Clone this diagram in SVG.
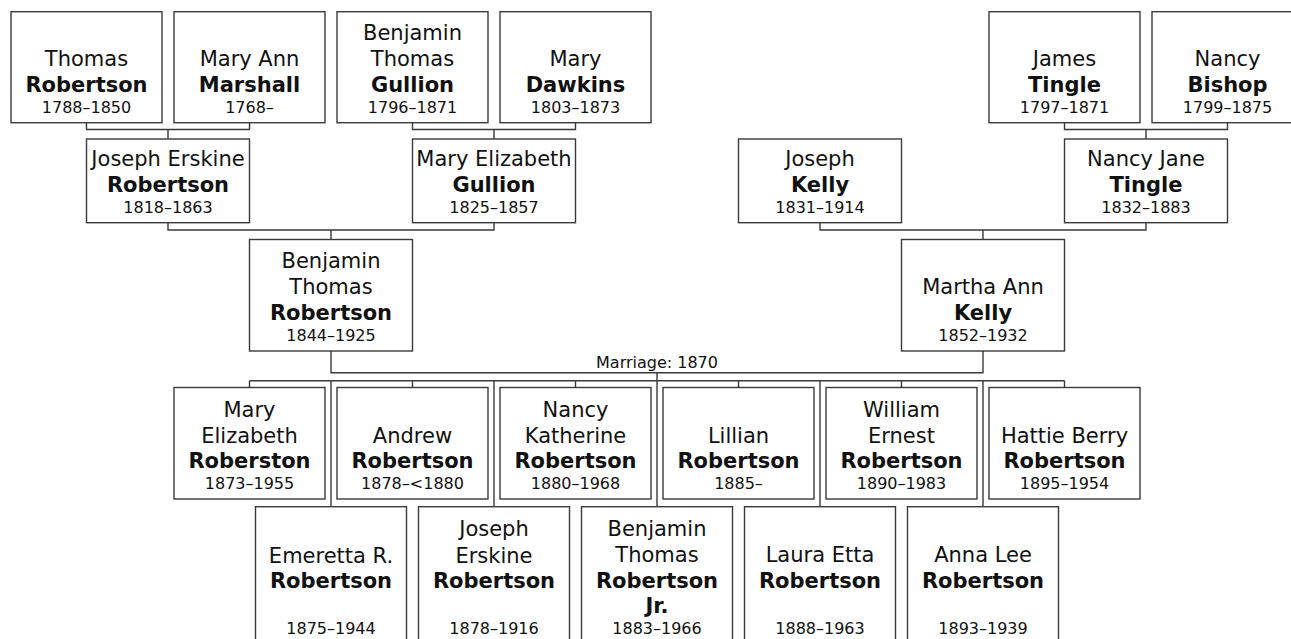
<svg xmlns="http://www.w3.org/2000/svg" width="1291" height="639" viewBox="0 0 1291 639">
<style>
.box{fill:#fff;stroke:#3a3a3a;stroke-width:1.4}
.c{fill:none;stroke:#3a3a3a;stroke-width:1.4}
text{font-family:"DejaVu Sans",Verdana,sans-serif;font-size:21px;text-anchor:middle;fill:#111}
.s{font-weight:bold}
.d{font-size:16px}
</style>
<rect width="1291" height="639" fill="#fff"/>
<g id="connectors">
<path class="c" d="M86.5,122.7V129.5H249.5V122.7M168,129.5V139"/>
<path class="c" d="M412.5,122.7V129.5H575.5V122.7M494,129.5V139"/>
<path class="c" d="M1064.5,122.7V129.5H1227.5V122.7M1146,129.5V139"/>
<path class="c" d="M168,222.7V230H494V222.7M331,230V239.5"/>
<path class="c" d="M820,222.7V230H1146V222.7M983,230V239.5"/>
<path class="c" d="M331,351V372.7H983V351M657,372.7V506.7"/>
<path class="c" d="M249.5,380.7H1064.5M249.5,380.7V387.5M412.5,380.7V387.5M575.5,380.7V387.5M738.5,380.7V387.5M901.5,380.7V387.5M1064.5,380.7V387.5"/>
<path class="c" d="M331,380.7V506.7M494,380.7V506.7M820,380.7V506.7M983,380.7V506.7"/>
<text class="d" x="657" y="367.7">Marriage: 1870</text>
</g>
<g id="thomas-robertson"><rect class="box" x="11" y="11.7" width="151" height="111"/><text x="86.5" y="65.7">Thomas</text><text class="s" x="86.5" y="91.7">Robertson</text><text class="d" x="86.5" y="112.7">1788–1850</text></g>
<g id="mary-ann-marshall"><rect class="box" x="174" y="11.7" width="151" height="111"/><text x="249.5" y="65.7">Mary Ann</text><text class="s" x="249.5" y="91.7">Marshall</text><text class="d" x="249.5" y="112.7">1768–</text></g>
<g id="benjamin-thomas-gullion"><rect class="box" x="337" y="11.7" width="151" height="111"/><text x="412.5" y="39.7">Benjamin</text><text x="412.5" y="65.7">Thomas</text><text class="s" x="412.5" y="91.7">Gullion</text><text class="d" x="412.5" y="112.7">1796–1871</text></g>
<g id="mary-dawkins"><rect class="box" x="500" y="11.7" width="151" height="111"/><text x="575.5" y="65.7">Mary</text><text class="s" x="575.5" y="91.7">Dawkins</text><text class="d" x="575.5" y="112.7">1803–1873</text></g>
<g id="james-tingle"><rect class="box" x="989" y="11.7" width="151" height="111"/><text x="1064.5" y="65.7">James</text><text class="s" x="1064.5" y="91.7">Tingle</text><text class="d" x="1064.5" y="112.7">1797–1871</text></g>
<g id="nancy-bishop"><rect class="box" x="1152" y="11.7" width="151" height="111"/><text x="1227.5" y="65.7">Nancy</text><text class="s" x="1227.5" y="91.7">Bishop</text><text class="d" x="1227.5" y="112.7">1799–1875</text></g>
<g id="joseph-erskine-robertson"><rect class="box" x="86.5" y="139" width="163" height="83.7"/><text x="168" y="166.2">Joseph Erskine</text><text class="s" x="168" y="192.2">Robertson</text><text class="d" x="168" y="213">1818–1863</text></g>
<g id="mary-elizabeth-gullion"><rect class="box" x="412.5" y="139" width="163" height="83.7"/><text x="494" y="166.2">Mary Elizabeth</text><text class="s" x="494" y="192.2">Gullion</text><text class="d" x="494" y="213">1825–1857</text></g>
<g id="joseph-kelly"><rect class="box" x="738.5" y="139" width="163" height="83.7"/><text x="820" y="166.2">Joseph</text><text class="s" x="820" y="192.2">Kelly</text><text class="d" x="820" y="213">1831–1914</text></g>
<g id="nancy-jane-tingle"><rect class="box" x="1064.5" y="139" width="163" height="83.7"/><text x="1146" y="166.2">Nancy Jane</text><text class="s" x="1146" y="192.2">Tingle</text><text class="d" x="1146" y="213">1832–1883</text></g>
<g id="benjamin-thomas-robertson"><rect class="box" x="249.5" y="239.5" width="163" height="111.5"/><text x="331" y="268">Benjamin</text><text x="331" y="294">Thomas</text><text class="s" x="331" y="320">Robertson</text><text class="d" x="331" y="341">1844–1925</text></g>
<g id="martha-ann-kelly"><rect class="box" x="901.5" y="239.5" width="163" height="111.5"/><text x="983" y="294">Martha Ann</text><text class="s" x="983" y="320">Kelly</text><text class="d" x="983" y="341">1852–1932</text></g>
<g id="mary-elizabeth-roberston"><rect class="box" x="174" y="387.5" width="151" height="111.5"/><text x="249.5" y="416.5">Mary</text><text x="249.5" y="442.5">Elizabeth</text><text class="s" x="249.5" y="468.3">Roberston</text><text class="d" x="249.5" y="489">1873–1955</text></g>
<g id="andrew-robertson"><rect class="box" x="337" y="387.5" width="151" height="111.5"/><text x="412.5" y="442.5">Andrew</text><text class="s" x="412.5" y="468.3">Robertson</text><text class="d" x="412.5" y="489">1878–&lt;1880</text></g>
<g id="nancy-katherine-robertson"><rect class="box" x="500" y="387.5" width="151" height="111.5"/><text x="575.5" y="416.5">Nancy</text><text x="575.5" y="442.5">Katherine</text><text class="s" x="575.5" y="468.3">Robertson</text><text class="d" x="575.5" y="489">1880–1968</text></g>
<g id="lillian-robertson"><rect class="box" x="663" y="387.5" width="151" height="111.5"/><text x="738.5" y="442.5">Lillian</text><text class="s" x="738.5" y="468.3">Robertson</text><text class="d" x="738.5" y="489">1885–</text></g>
<g id="william-ernest-robertson"><rect class="box" x="826" y="387.5" width="151" height="111.5"/><text x="901.5" y="416.5">William</text><text x="901.5" y="442.5">Ernest</text><text class="s" x="901.5" y="468.3">Robertson</text><text class="d" x="901.5" y="489">1890–1983</text></g>
<g id="hattie-berry-robertson"><rect class="box" x="989" y="387.5" width="151" height="111.5"/><text x="1064.5" y="442.5">Hattie Berry</text><text class="s" x="1064.5" y="468.3">Robertson</text><text class="d" x="1064.5" y="489">1895–1954</text></g>
<g id="emeretta-robertson"><rect class="box" x="255.5" y="506.7" width="151" height="150"/><text x="331" y="562.5">Emeretta R.</text><text class="s" x="331" y="588">Robertson</text><text class="d" x="331" y="634">1875–1944</text></g>
<g id="joseph-erskine-robertson-2"><rect class="box" x="418.5" y="506.7" width="151" height="150"/><text x="494" y="536">Joseph</text><text x="494" y="562.5">Erskine</text><text class="s" x="494" y="588">Robertson</text><text class="d" x="494" y="634">1878–1916</text></g>
<g id="benjamin-thomas-robertson-jr"><rect class="box" x="581.5" y="506.7" width="151" height="150"/><text x="657" y="536">Benjamin</text><text x="657" y="562">Thomas</text><text class="s" x="657" y="587.5">Robertson</text><text class="s" x="657" y="613">Jr.</text><text class="d" x="657" y="634">1883–1966</text></g>
<g id="laura-etta-robertson"><rect class="box" x="744.5" y="506.7" width="151" height="150"/><text x="820" y="562">Laura Etta</text><text class="s" x="820" y="587.5">Robertson</text><text class="d" x="820" y="634">1888–1963</text></g>
<g id="anna-lee-robertson"><rect class="box" x="907.5" y="506.7" width="151" height="150"/><text x="983" y="562">Anna Lee</text><text class="s" x="983" y="587.5">Robertson</text><text class="d" x="983" y="634">1893–1939</text></g>
</svg>
